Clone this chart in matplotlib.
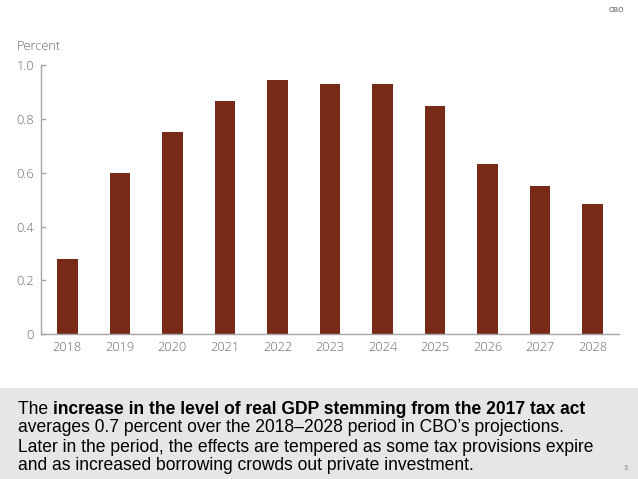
import matplotlib
matplotlib.use("Agg")
import matplotlib.pyplot as plt

years = ["2018", "2019", "2020", "2021", "2022", "2023", "2024", "2025", "2026", "2027", "2028"]
values = [0.28, 0.60, 0.75, 0.866, 0.944, 0.93, 0.93, 0.848, 0.632, 0.552, 0.484]
yticks = [0, 0.2, 0.4, 0.6, 0.8, 1.0]
yticklabels = ["0", "0.2", "0.4", "0.6", "0.8", "1.0"]

bar_color = "#762A17"
tick_color = "#666666"
axis_color = "#A6A6A6"
tick_font = "Open Sans"

fig = plt.figure(figsize=(6.38, 4.79), dpi=100)
ax = fig.add_axes([41/638, 1 - 334.3/479, (619 - 41)/638, (334.3 - 65)/479])

x = list(range(len(years)))
ax.bar(x, values, width=0.39, color=bar_color, zorder=2)
ax.set_xlim(-0.5, 10.5)
ax.set_ylim(0, 1.0)
ax.set_xticks(x)
ax.set_xticklabels(years, fontfamily=tick_font, fontsize=9.2, color=tick_color, fontweight="light")
ax.set_yticks(yticks)
ax.set_yticklabels(yticklabels, fontfamily=tick_font, fontsize=9.2, color=tick_color, fontweight="light")
ax.tick_params(axis="x", length=0, pad=5)
ax.tick_params(axis="y", direction="in", length=3.5, width=1, color=axis_color, pad=5)
for s in ["top", "right"]:
    ax.spines[s].set_visible(False)
for s in ["left", "bottom"]:
    ax.spines[s].set_color(axis_color)
    ax.spines[s].set_linewidth(1)

fig.text(17/638, 1 - 46/479, "Percent", fontfamily=tick_font, fontsize=9.2,
         color=tick_color, fontweight="light", ha="left", va="center")
fig.text(624/638, 1 - 10/479, "CBO", fontfamily="Liberation Sans", fontsize=5,
         fontweight="bold", color="#7F7F7F", ha="right", va="center")

# gray band
band = plt.Rectangle((0, 0), 1, (479 - 388)/479, transform=fig.transFigure,
                     facecolor="#E6E6E6", edgecolor="none", zorder=0)
fig.patches.append(band)

fs = 12.65
lh = 19/479
y0 = 1 - 409/479
t1 = fig.text(18/638, y0, "The ", fontfamily="Liberation Sans", fontsize=fs,
              color="black", ha="left", va="center")
fig.texts.append(plt.Annotation(
    "increase in the level of real GDP stemming from the 2017 tax act",
    xy=(1, 0.5), xycoords=t1, fontfamily="Liberation Sans", fontsize=fs,
    fontweight="bold", color="black", ha="left", va="center"))
fig.texts[-1].set_figure(fig)
rest = ["averages 0.7 percent over the 2018\u20132028 period in CBO\u2019s projections.",
        "Later in the period, the effects are tempered as some tax provisions expire",
        "and as increased borrowing crowds out private investment."]
for i, line in enumerate(rest):
    fig.text(18/638, y0 - (i + 1) * lh, line, fontfamily="Liberation Sans",
             fontsize=fs, color="black", ha="left", va="center")
fig.text(628/638, 1 - 468/479, "3", fontfamily="Liberation Sans", fontsize=5,
         color="#7F7F7F", ha="right", va="center")

fig.savefig("out.png", dpi=100)
